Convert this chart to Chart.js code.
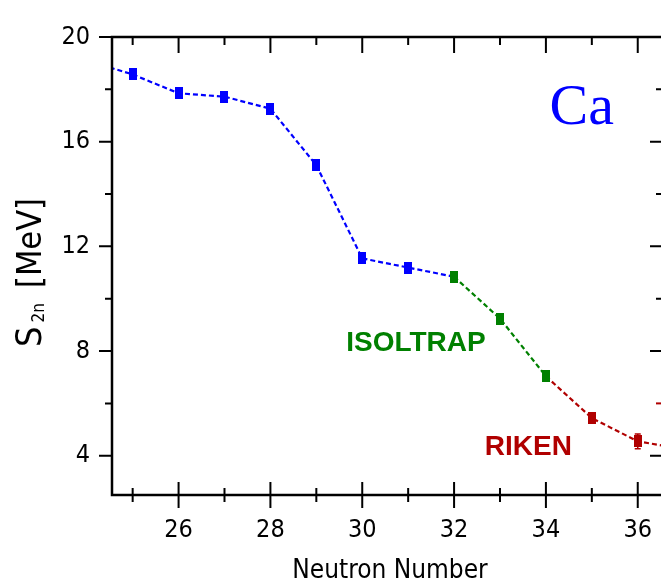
<!DOCTYPE html>
<html>
<head>
<meta charset="utf-8">
<script src="https://cdn.jsdelivr.net/npm/chart.js@4"></script>
<style>
  html, body { margin: 0; padding: 0; background: #fff; overflow: hidden; }
  #wrap { width: 661px; height: 579px; overflow: hidden; }
</style>
</head>
<body>
<div id="wrap"><canvas id="chart" width="680" height="579"></canvas></div>
<script>
// neutron number and two-neutron separation energy
const neutrons = [24, 25, 26, 27, 28, 29, 30, 31, 32, 33, 34, 35, 36, 37];
const s2n = [19.1, 18.57, 17.85, 17.72, 17.26, 15.10, 11.54, 11.19, 10.84, 9.24, 7.04, 5.44, 4.55, 4.25];
const s2nErr = [0, 0.05, 0.05, 0.05, 0.05, 0.05, 0.05, 0.05, 0.05, 0.05, 0.05, 0.05, 0.28, 0];
// which measurement each point belongs to
const source = ['', 'blue', 'blue', 'blue', 'blue', 'blue', 'blue', 'blue', 'green', 'green', 'green', 'red', 'red', ''];

const xTicks = [26, 28, 30, 32, 34, 36];
const yTicks = [4, 8, 12, 16, 20];
const xMinor = [25, 27, 29, 31, 33, 35];
const yMinor = [6, 10, 14, 18];

const colors = { blue: '#0000ff', green: '#008000', red: '#b00000' };
const tickFont = '"DejaVu Sans Condensed", "DejaVu Sans", sans-serif';

function marker(color) {
    const c = document.createElement('canvas');
    c.width = 8;
    c.height = 12;
    const g = c.getContext('2d');
    g.fillStyle = color;
    g.fillRect(0, 0, 8, 12);
    return c;
}
const markers = { blue: marker(colors.blue), green: marker(colors.green), red: marker(colors.red) };

// segment colour: line leaving a point takes the colour of the next group
function segColor(ctx) {
    const i = ctx.p0DataIndex;
    if (i < 8) return colors.blue;
    if (i < 10) return colors.green;
    return colors.red;
}

const extras = {
    id: 'extras',
    afterDatasetsDraw(chart) {
        const { ctx, chartArea: a, scales: { x, y } } = chart;
        ctx.save();
        // error bars
        ctx.lineWidth = 1.5;
        neutrons.forEach((n, i) => {
            if (!source[i] || s2nErr[i] < 0.1) return;
            const px = x.getPixelForValue(n);
            const y1 = y.getPixelForValue(s2n[i] - s2nErr[i]);
            const y2 = y.getPixelForValue(s2n[i] + s2nErr[i]);
            ctx.strokeStyle = colors[source[i]];
            ctx.beginPath();
            ctx.moveTo(px, y1); ctx.lineTo(px, y2);
            ctx.moveTo(px - 3, y1); ctx.lineTo(px + 3, y1);
            ctx.moveTo(px - 3, y2); ctx.lineTo(px + 3, y2);
            ctx.stroke();
        });

        // tick marks on all four sides
        ctx.lineWidth = 2;
        ctx.strokeStyle = colors.red;
        ctx.beginPath();
        const p6 = y.getPixelForValue(6);
        ctx.moveTo(a.right - 7, p6); ctx.lineTo(a.right, p6);
        ctx.stroke();

        ctx.strokeStyle = '#000';
        ctx.beginPath();
        xTicks.forEach(v => {
            const px = x.getPixelForValue(v);
            ctx.moveTo(px, a.bottom - 13); ctx.lineTo(px, a.bottom + 13);
            ctx.moveTo(px, a.top); ctx.lineTo(px, a.top + 16);
        });
        xMinor.forEach(v => {
            const px = x.getPixelForValue(v);
            ctx.moveTo(px, a.bottom - 7); ctx.lineTo(px, a.bottom + 7);
            ctx.moveTo(px, a.top); ctx.lineTo(px, a.top + 8);
        });
        yTicks.forEach(v => {
            const py = y.getPixelForValue(v);
            ctx.moveTo(a.left - 13, py); ctx.lineTo(a.left, py);
            ctx.moveTo(a.right - 13, py); ctx.lineTo(a.right, py);
        });
        yMinor.forEach(v => {
            const py = y.getPixelForValue(v);
            ctx.moveTo(a.left - 7, py); ctx.lineTo(a.left, py);
            if (v !== 6) { ctx.moveTo(a.right - 7, py); ctx.lineTo(a.right, py); }
        });
        ctx.stroke();

        // frame
        ctx.lineWidth = 2.5;
        ctx.strokeRect(a.left, a.top, a.right - a.left, a.bottom - a.top);

        // labels inside the plot
        ctx.textAlign = 'left';
        ctx.textBaseline = 'alphabetic';
        ctx.fillStyle = colors.blue;
        ctx.font = '58px "Liberation Serif", serif';
        ctx.fillText('Ca', x.getPixelForValue(34.08), y.getPixelForValue(16.68));
        ctx.font = 'bold 28px "Liberation Sans", Arial, sans-serif';
        ctx.fillStyle = colors.green;
        ctx.fillText('ISOLTRAP', x.getPixelForValue(29.65), y.getPixelForValue(8.0));
        ctx.fillStyle = colors.red;
        ctx.fillText('RIKEN', x.getPixelForValue(32.67), y.getPixelForValue(4.02));

        // axis titles
        ctx.fillStyle = '#000';
        ctx.textAlign = 'center';
        ctx.font = '26px ' + tickFont;
        ctx.fillText('Neutron Number', 390, 578);

        ctx.translate(41, 347);
        ctx.rotate(-Math.PI / 2);
        ctx.textAlign = 'left';
        ctx.font = '36px ' + tickFont;
        ctx.fillText('S', 0, 0);
        let w = ctx.measureText('S').width;
        ctx.font = '17px ' + tickFont;
        ctx.fillText('2n', w + 4, 3);
        w += 4 + ctx.measureText('2n').width + 15;
        ctx.font = '34px ' + tickFont;
        ctx.fillText('[MeV]', w, 0);
        ctx.restore();
    }
};

new Chart(document.getElementById('chart'), {
    type: 'line',
    data: {
        labels: neutrons,
        datasets: [{
            data: neutrons.map((n, i) => ({ x: n, y: s2n[i] })),
            borderWidth: 2.2,
            borderDash: [5, 3],
            borderColor: colors.blue,
            segment: { borderColor: segColor },
            pointStyle: source.map(s => s ? markers[s] : false),
            pointRadius: source.map(s => s ? 5 : 0),
            pointHoverRadius: 0,
            fill: false,
            tension: 0
        }]
    },
    options: {
        responsive: false,
        animation: false,
        events: [],
        layout: { padding: { top: 25, right: 17, left: 0, bottom: 0 } },
        plugins: { legend: { display: false }, tooltip: { enabled: false } },
        scales: {
            x: {
                type: 'linear',
                min: 24.55,
                max: 36.55,
                afterBuildTicks: s => { s.ticks = xTicks.map(v => ({ value: v })); },
                afterFit: s => { s.height = 84; },
                grid: { display: false, drawTicks: false },
                border: { display: false },
                ticks: { color: '#000', padding: 20, maxRotation: 0, autoSkip: false,
                         font: { family: tickFont, size: 25 } }
            },
            y: {
                min: 2.5,
                max: 20,
                afterBuildTicks: s => { s.ticks = yTicks.map(v => ({ value: v })); },
                afterFit: s => { s.width = 112; },
                grid: { display: false, drawTicks: false },
                border: { display: false },
                ticks: { color: '#000', padding: 22, font: { family: tickFont, size: 25 } }
            }
        }
    },
    plugins: [extras]
});
</script>
</body>
</html>
